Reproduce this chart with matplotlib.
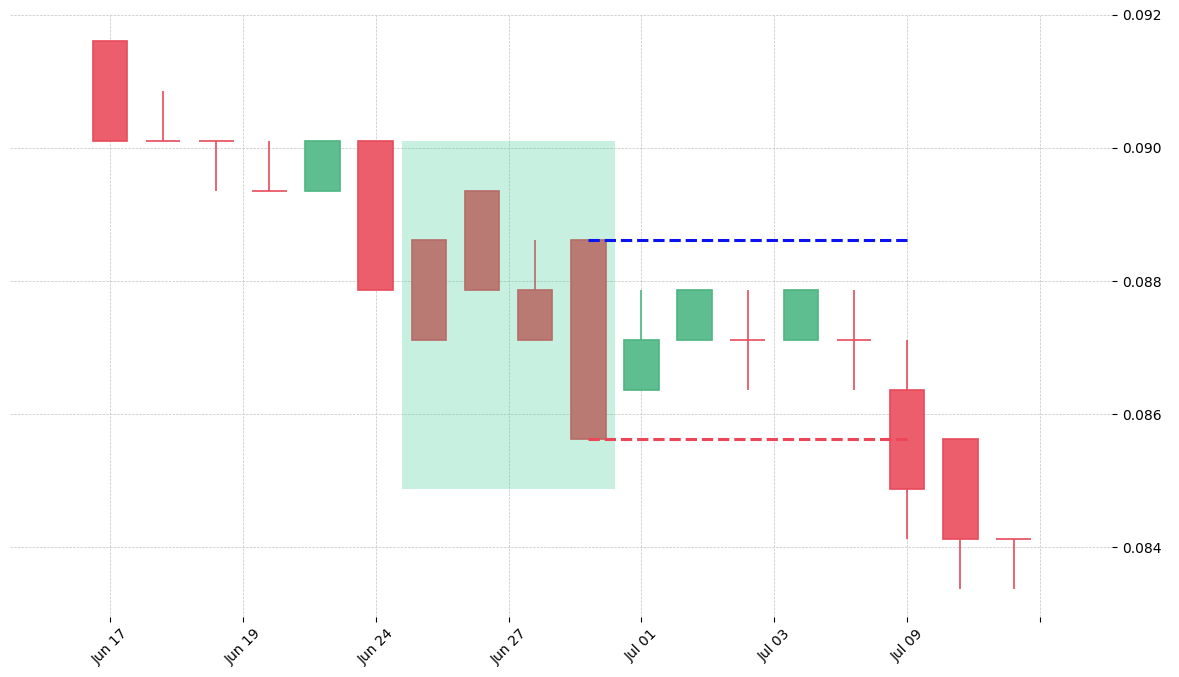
import matplotlib
matplotlib.use("Agg")
import matplotlib.pyplot as plt
import numpy as np

# daily candles (index based x axis)
dates = ["Jun 17", "Jun 18", "Jun 19", "Jun 20", "Jun 21", "Jun 24", "Jun 25", "Jun 26", "Jun 27",
         "Jun 28", "Jul 01", "Jul 02", "Jul 03", "Jul 05", "Jul 08", "Jul 09", "Jul 10", "Jul 11"]
opens = [0.09161, 0.09011, 0.09011, 0.08936, 0.08936, 0.09011, 0.08861, 0.08936, 0.08786,
         0.08861, 0.08636, 0.08711, 0.08711, 0.08711, 0.08711, 0.08636, 0.08562, 0.08412]
highs = [0.09161, 0.09086, 0.09011, 0.09011, 0.09011, 0.09011, 0.08861, 0.08936, 0.08861,
         0.08861, 0.08786, 0.08786, 0.08786, 0.08786, 0.08786, 0.08711, 0.08562, 0.08412]
lows = [0.09011, 0.09011, 0.08936, 0.08936, 0.08936, 0.08786, 0.08711, 0.08786, 0.08711,
        0.08562, 0.08636, 0.08711, 0.08636, 0.08711, 0.08636, 0.08412, 0.08337, 0.08337]
closes = [0.09011, 0.09011, 0.09011, 0.08936, 0.09011, 0.08786, 0.08711, 0.08786, 0.08711,
          0.08562, 0.08711, 0.08786, 0.08711, 0.08786, 0.08711, 0.08487, 0.08412, 0.08412]

tick_pos = [0, 2.5, 5, 7.5, 10, 12.5, 15, 17.5]
tick_labels = ["Jun 17", "Jun 19", "Jun 24", "Jun 27", "Jul 01", "Jul 03", "Jul 09", ""]

# pattern zone and breakout levels
zone_x = (5.5, 9.5)
zone_y = (0.08487, 0.09011)
level_x = (9, 15)
resistance = 0.08861
support = 0.08562

up_face, up_edge = "#5fbe8f", "#4db581"
dn_face, dn_edge = "#ed5e6c", "#e84a5c"

fig = plt.figure(figsize=(11.79, 6.77), dpi=100)
ax = fig.add_axes([0.0085, 0.0886, 0.935, 0.8894])

x = np.arange(len(opens))
o = np.array(opens)
c = np.array(closes)
up = c > o
face = [up_face if u else dn_face for u in up]
edge = [up_edge if u else dn_edge for u in up]

ax.vlines(x, lows, highs, colors=edge, linewidth=1.2, zorder=2)
ax.bar(x, np.abs(c - o), width=0.65, bottom=np.minimum(o, c),
       color=face, edgecolor=edge, linewidth=1.2, zorder=3)

ax.fill_between(zone_x, zone_y[0], zone_y[1], color="#34c88d", alpha=0.27,
                linewidth=0, zorder=4)
ax.hlines(resistance, *level_x, colors="#0a14f0", linestyles="--", linewidth=2.2, zorder=5)
ax.hlines(support, *level_x, colors="#ee4659", linestyles="--", linewidth=2.2, zorder=5)

ax.set_xlim(-1.88, 18.86)
ax.set_ylim(0.08295, 0.0920)
ax.set_xticks(tick_pos)
ax.set_xticklabels(tick_labels, rotation=45)
ax.set_yticks([0.084, 0.086, 0.088, 0.090, 0.092])
ax.yaxis.tick_right()
ax.grid(True, color="#c4c4c4", linestyle="--", linewidth=0.5)
ax.set_axisbelow(True)
for s in ax.spines.values():
    s.set_visible(False)

fig.savefig("out.png", dpi=100)
